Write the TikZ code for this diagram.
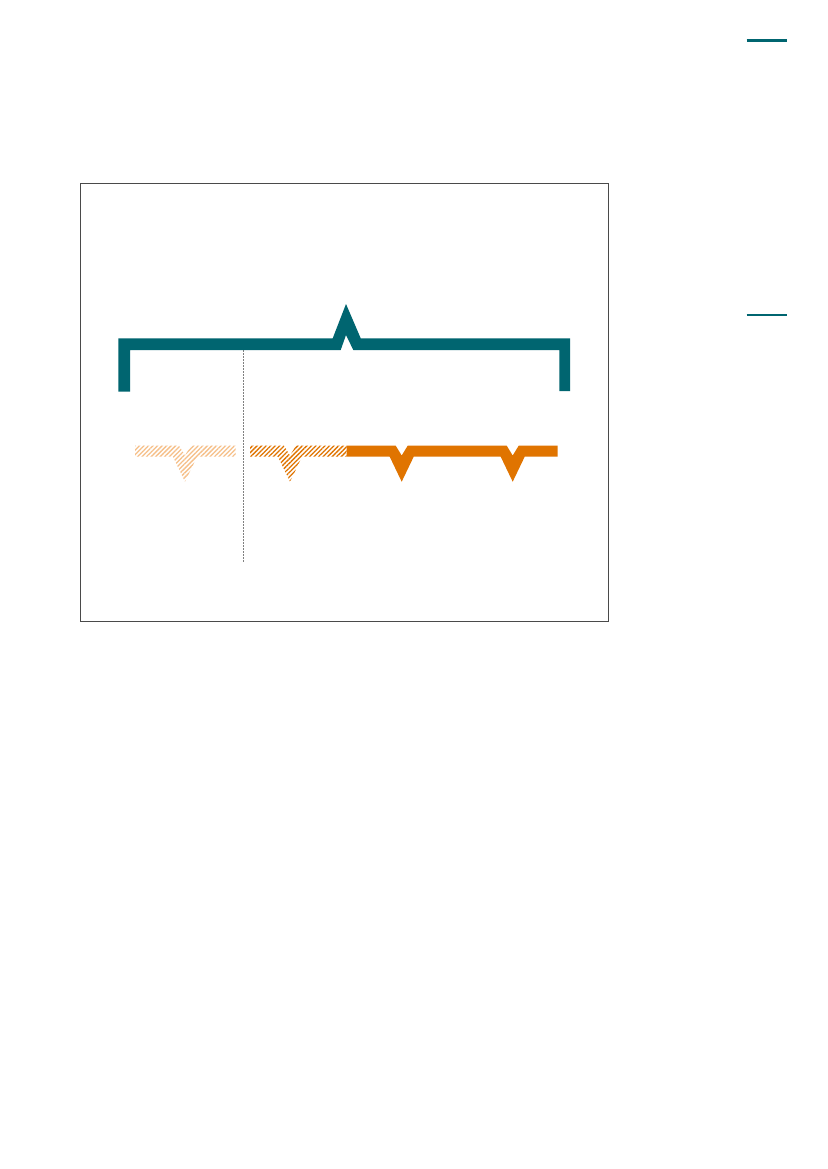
\documentclass[tikz,border=0pt]{standalone}
\usetikzlibrary{patterns.meta}
\definecolor{teal1}{HTML}{006570}
\definecolor{orange1}{HTML}{E07400}
\definecolor{orangelight}{HTML}{F6BF88}
\definecolor{framegray}{HTML}{4A4A4A}
\begin{document}
\begin{tikzpicture}[x=1pt,y=-1pt,
  frame/.style={draw=framegray,line width=1pt},
  guide/.style={draw=gray,line width=0.8pt,dash pattern=on 1.5pt off 1.5pt},
  solidseg/.style={fill=orange1},
  hatchlight/.style={pattern={Lines[angle=45,distance=3.2pt,line width=1.3pt]},pattern color=orangelight},
  hatchmid/.style={pattern={Lines[angle=45,distance=3.2pt,line width=1.3pt]},pattern color=orange1},
  tick/.style={draw=teal1}]
\useasboundingbox (0,0) rectangle (827,1169);
\fill[white] (0,0) rectangle (827,1169);
% frame
\draw[frame] (80.3,184) rectangle (608.3,621.3);
% right ticks
\draw[tick,line width=3pt] (746.7,40.7) -- (786.7,40.7);
\draw[tick,line width=2pt] (746.7,315) -- (786.7,315);
% dotted guide
\draw[guide] (243.3,350) -- (243.3,563);
% teal bracket
\fill[teal1] (118.3,391.7) -- (118.3,338.3) -- (332.7,338.3) -- (346,304) -- (360.7,338.3)
  -- (570,338.3) -- (570,391) -- (559.3,391) -- (559.3,350) -- (353.3,350) -- (346,335)
  -- (340.7,350) -- (130,350) -- (130,391.7) -- cycle;
% orange segments
\def\Ttop{445.7}\def\Tbot{456.7}\def\Tap{481.7}\def\Tin{455.5}
% light hatched
\path[hatchlight] (135,\Ttop) -- (179,\Ttop) -- (185,\Tin) -- (191,\Ttop) -- (235.7,\Ttop)
  -- (235.7,\Tbot) -- (197,\Tbot) -- (185,\Tap) -- (173,\Tbot) -- (135,\Tbot) -- cycle;
% medium hatched
\path[hatchmid] (250,\Ttop) -- (284,\Ttop) -- (290,\Tin) -- (296,\Ttop) -- (346.7,\Ttop)
  -- (346.7,\Tbot) -- (302,\Tbot) -- (290,\Tap) -- (278,\Tbot) -- (250,\Tbot) -- cycle;
% solid
\fill[solidseg] (346.7,\Ttop) -- (395.7,\Ttop) -- (401.7,\Tin) -- (407.7,\Ttop)
  -- (506.7,\Ttop) -- (512.7,\Tin) -- (518.7,\Ttop) -- (557.7,\Ttop)
  -- (557.7,\Tbot) -- (524.7,\Tbot) -- (512.7,\Tap) -- (500.7,\Tbot)
  -- (413.7,\Tbot) -- (401.7,\Tap) -- (389.7,\Tbot) -- (346.7,\Tbot) -- cycle;
\end{tikzpicture}
\end{document}
